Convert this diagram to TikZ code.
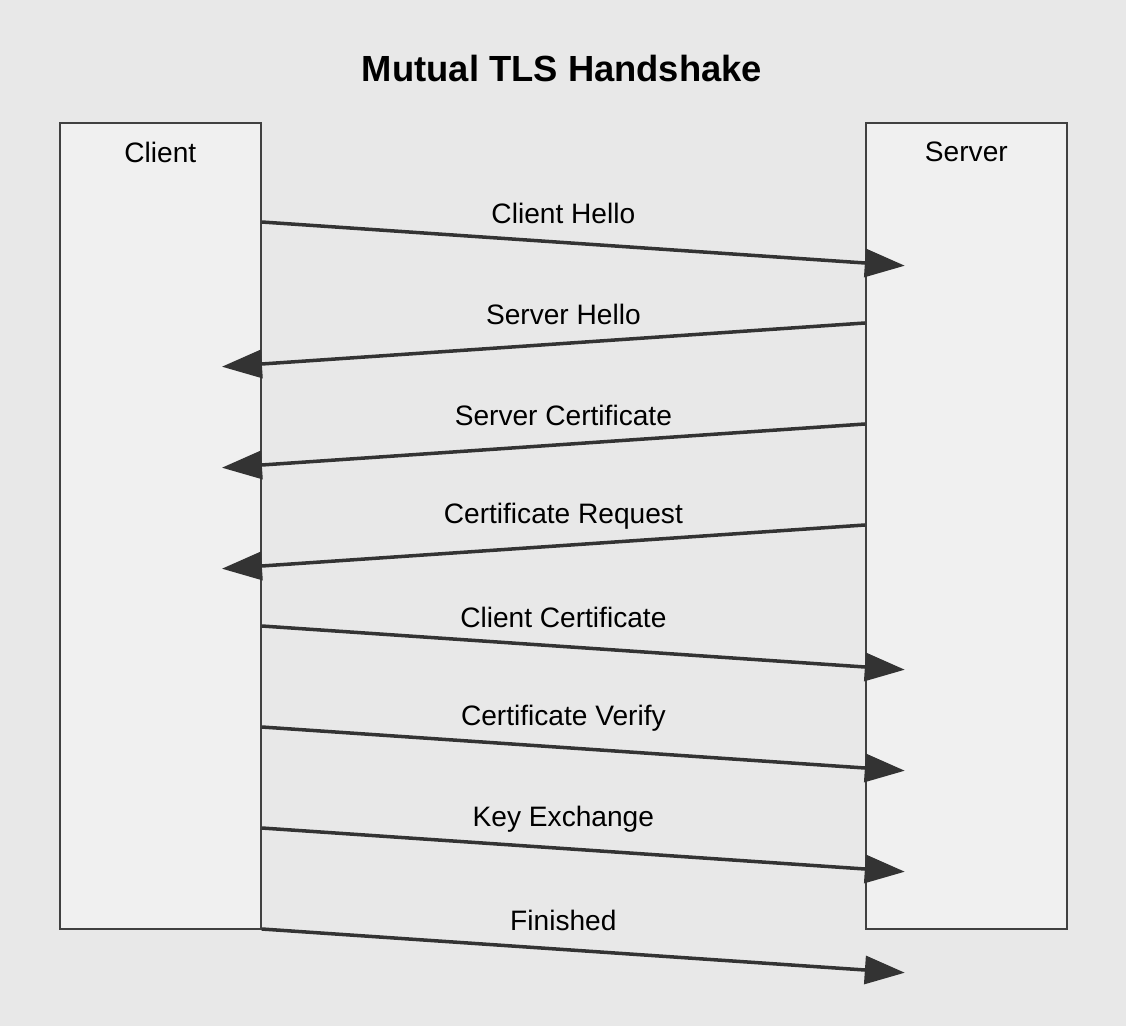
\documentclass[tikz,border=0pt]{standalone}
\usepackage{fontspec}
\setmainfont{Liberation Sans}
\usetikzlibrary{arrows.meta,calc}
\definecolor{bgcol}{HTML}{E8E8E8}
\definecolor{boxfill}{HTML}{F0F0F0}
\definecolor{boxline}{HTML}{404040}
\definecolor{msgcol}{HTML}{333333}
\begin{document}
\begin{tikzpicture}[x=0.02cm,y=-0.02cm,
  party/.style={draw=boxline,fill=boxfill,line width=1pt,anchor=north west,minimum width=4.02cm,minimum height=16.12cm,inner sep=0pt},
  msg/.style={draw=msgcol,line width=2pt,-{Triangle[length=0.8cm,width=0.56cm]}},
  lbl/.style={font=\fontsize{16}{19}\selectfont}]
\fill[bgcol] (0,0) rectangle (1126,1026);
\useasboundingbox (0,0) rectangle (1126,1026);
\node[font=\fontsize{20.7}{24}\selectfont\bfseries] (title) at (562,69) {Mutual TLS Handshake};
\node[party] (client) at (59,122) {};
\node[party] (server) at (865,122) {};
\node[lbl] (clientname) at ([shift={(0,30)}]client.north) {Client};
\node[lbl] (servername) at ([shift={(0,30)}]server.north) {Server};
% client -> server
\foreach \k/\txt in {0/Client Hello, 4/Client Certificate, 5/Certificate Verify, 6/Key Exchange, 7/Finished} {
  \coordinate (from\k) at ([shift={(0,100+101*\k)}]client.north east);
  \coordinate (to\k) at ([shift={(0,141+101*\k)}]server.north west);
  \draw[msg] (from\k) -- ($(from\k)!1.066!(to\k)$);
  \node[lbl] (txt\k) at ($(from\k)!.5!(to\k)+(0,-29)$) {\txt};
}
% server -> client
\foreach \k/\txt in {1/Server Hello, 2/Server Certificate, 3/Certificate Request} {
  \coordinate (from\k) at ([shift={(0,100+101*\k)}]server.north west);
  \coordinate (to\k) at ([shift={(0,141+101*\k)}]client.north east);
  \draw[msg] (from\k) -- ($(from\k)!1.066!(to\k)$);
  \node[lbl] (txt\k) at ($(from\k)!.5!(to\k)+(0,-29)$) {\txt};
}
\end{tikzpicture}
\end{document}
